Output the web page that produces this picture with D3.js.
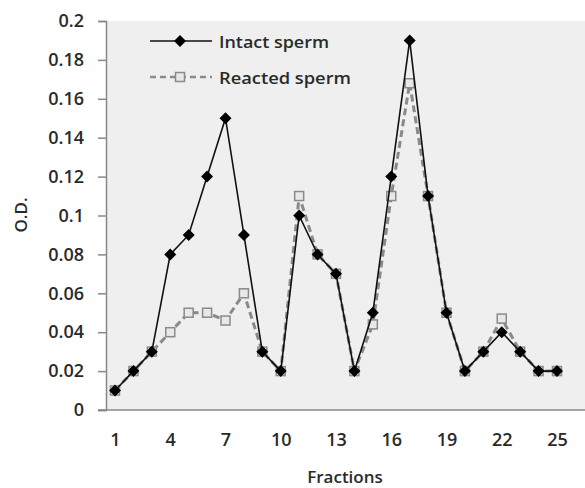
<!DOCTYPE html>
<html><head><meta charset="utf-8">
<script src="https://cdn.jsdelivr.net/npm/d3@7"></script>
<style>body{margin:0;background:#fff;}svg{display:block;font-family:"Open Sans",sans-serif;}</style>
</head><body>
<svg id="c" width="585" height="488"></svg>
<script>
const fractions = d3.range(1, 26);
const intact  = [0.01,0.02,0.03,0.08,0.09,0.12,0.15,0.09,0.03,0.02,0.10,0.08,0.07,0.02,0.05,0.12,0.19,0.11,0.05,0.02,0.03,0.04,0.03,0.02,0.02];
const reacted = [0.01,0.02,0.03,0.04,0.05,0.05,0.046,0.06,0.03,0.02,0.11,0.08,0.07,0.02,0.044,0.11,0.168,0.11,0.05,0.02,0.03,0.047,0.03,0.02,0.02];
const yTicks = [0,0.02,0.04,0.06,0.08,0.1,0.12,0.14,0.16,0.18,0.2];
const yTickLabels = ["0","0.02","0.04","0.06","0.08","0.1","0.12","0.14","0.16","0.18","0.2"];
const xTicks = [1,4,7,10,13,16,19,22,25];
const seriesNames = ["Intact sperm","Reacted sperm"];

const svg = d3.select("#c");
const L = 106, R = 585, T = 21, B = 410;
const x = d3.scalePoint().domain(fractions).range([115, 557]);
const y = d3.scaleLinear().domain([0, 0.2]).range([B, T]);
const txt = "#2a2a2a";

svg.append("rect").attr("x", L).attr("y", T).attr("width", R - L).attr("height", B - T).attr("fill", "#efefef");

// y axis
const ya = svg.append("g").attr("transform", `translate(${L},0)`)
  .call(d3.axisLeft(y).tickValues(yTicks).tickFormat((d,i)=>yTickLabels[i]).tickSize(8).tickPadding(14));
ya.select(".domain").attr("stroke", "#888").attr("stroke-width", 1.5);
ya.selectAll(".tick line").attr("stroke", "#888").attr("stroke-width", 1.5);
ya.selectAll(".tick text").attr("font-size", 18).attr("font-weight", 600).attr("fill", txt).attr("font-family", "Open Sans");

// x axis
const xa = svg.append("g").attr("transform", `translate(0,${B})`)
  .call(d3.axisBottom(x).tickValues(xTicks).tickSize(0).tickPadding(23));
xa.select(".domain").attr("d", `M${L - 8},0H${R}`).attr("stroke", "#888").attr("stroke-width", 1.5);
xa.selectAll(".tick text").attr("font-size", 18).attr("font-weight", 600).attr("fill", txt).attr("font-family", "Open Sans");

svg.append("text").attr("x", 345).attr("y", 483).attr("text-anchor", "middle")
  .attr("font-size", 17).attr("font-weight", 600).attr("fill", txt).text("Fractions");
svg.append("text").attr("transform", "translate(27,215) rotate(-90)").attr("text-anchor", "middle")
  .attr("font-size", 17).attr("font-weight", 600).attr("fill", txt).text("O.D.");

const line = d3.line().x((d,i)=>x(fractions[i])).y(d=>y(d));

// reacted series
svg.append("path").datum(reacted).attr("d", line).attr("fill", "none")
  .attr("stroke", "#8a8a8a").attr("stroke-width", 3).attr("stroke-dasharray", "7,4");
svg.append("g").selectAll("rect").data(reacted).join("rect")
  .attr("x", (d,i)=>x(fractions[i]) - 4.5).attr("y", d=>y(d) - 4.5)
  .attr("width", 9).attr("height", 9).attr("fill", "#e8e8e8").attr("stroke", "#8a8a8a").attr("stroke-width", 1.5);

// intact series
svg.append("path").datum(intact).attr("d", line).attr("fill", "none")
  .attr("stroke", "#111").attr("stroke-width", 1.6);
const diamond = "M0,-6L6,0L0,6L-6,0Z";
svg.append("g").selectAll("path").data(intact).join("path")
  .attr("transform", (d,i)=>`translate(${x(fractions[i])},${y(d)})`)
  .attr("d", diamond).attr("fill", "#000");

// legend
const lg = svg.append("g");
lg.append("line").attr("x1", 150).attr("x2", 212).attr("y1", 41).attr("y2", 41).attr("stroke", "#111").attr("stroke-width", 1.6);
lg.append("path").attr("transform", "translate(180,41)").attr("d", diamond).attr("fill", "#000");
lg.append("line").attr("x1", 150).attr("x2", 212).attr("y1", 77).attr("y2", 77).attr("stroke", "#8a8a8a").attr("stroke-width", 2.5).attr("stroke-dasharray", "6,4");
lg.append("rect").attr("x", 175.5).attr("y", 72.5).attr("width", 9).attr("height", 9).attr("fill", "#e8e8e8").attr("stroke", "#8a8a8a").attr("stroke-width", 1.5);
const legendWidths = [110, 132];
lg.selectAll("text").data(seriesNames).join("text")
  .attr("x", 219).attr("y", (d,i)=>42 + i*36).attr("dy", "0.35em")
  .attr("font-size", 16).attr("font-weight", 600).attr("fill", txt)
  .attr("textLength", (d,i)=>legendWidths[i]).attr("lengthAdjust", "spacingAndGlyphs").text(d=>d);
</script>
</body></html>
